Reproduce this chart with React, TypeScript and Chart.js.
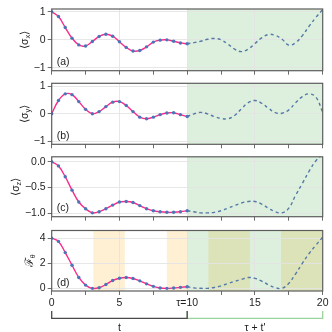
import React, { useEffect, useRef } from 'react';
import { Chart, registerables } from 'chart.js';
Chart.register(...registerables);

// ---------- data ----------
const tSolid = [0, 0.5, 1, 1.5, 2, 2.5, 3, 3.5, 4, 4.5, 5, 5.5, 6, 6.5, 7, 7.5, 8, 8.5, 9, 9.5, 10];
const tDashed = [10, 10.5, 11, 11.5, 12, 12.5, 13, 13.5, 14, 14.5, 15, 15.5, 16, 16.5, 17, 17.5, 18, 18.5, 19, 19.5, 20];

const sigmaXSolid = [1.0, 0.83, 0.44, 0.06, -0.18, -0.22, -0.06, 0.12, 0.2, 0.13, -0.07, -0.27, -0.4, -0.38, -0.25, -0.08, -0.01, 0.0, -0.05, -0.11, -0.14];
const sigmaXDashed = [-0.14, -0.1, -0.05, 0.02, 0.05, 0.0, -0.15, -0.33, -0.42, -0.33, -0.13, 0.07, 0.19, 0.16, 0.02, -0.19, -0.1, 0.15, 0.49, 0.8, 1.08];

const sigmaYSolid = [0, 0.48, 0.72, 0.69, 0.44, 0.16, 0.0, 0.08, 0.26, 0.42, 0.44, 0.3, 0.08, -0.12, -0.18, -0.12, -0.03, 0.03, 0.04, -0.03, -0.1];
const sigmaYDashed = [-0.1, 0.0, 0.05, 0.0, -0.1, -0.17, -0.18, -0.06, 0.18, 0.4, 0.48, 0.38, 0.2, 0.04, 0.02, 0.14, 0.4, 0.62, 0.72, 0.6, 0.06];

const sigmaZSolid = [0, -0.08, -0.29, -0.55, -0.78, -0.91, -0.99, -0.97, -0.91, -0.84, -0.78, -0.77, -0.79, -0.85, -0.91, -0.95, -0.97, -0.98, -0.98, -0.97, -0.95];
const sigmaZDashed = [-0.95, -0.97, -0.99, -0.99, -0.98, -0.95, -0.9, -0.85, -0.8, -0.77, -0.77, -0.82, -0.9, -0.97, -0.99, -0.9, -0.65, -0.42, -0.18, 0.02, 0.15];

const fisherSolid = [4.0, 3.74, 2.85, 1.84, 0.87, 0.26, 0.0, 0.05, 0.31, 0.63, 0.81, 0.87, 0.79, 0.6, 0.36, 0.16, 0.03, 0.0, 0.03, 0.08, 0.13];
const fisherDashed = [0.13, 0.04, 0.01, 0.0, 0.07, 0.2, 0.38, 0.56, 0.72, 0.86, 0.8, 0.58, 0.28, 0.06, 0.0, 0.4, 1.15, 2.0, 2.78, 3.45, 4.08];

const xTicks = [0, 2.5, 5, 7.5, 10, 12.5, 15, 17.5, 20];
const xTickLabels = ['0', '', '5', '', 'τ=10', '', '15', '', '20'];

const yTicksA = [-1, 0, 1];
const yLabelsA = ['−1', '0', '1'];
const yTicksB = [-1, 0, 1];
const yLabelsB = ['−1', '0', '1'];
const yTicksC = [-1, -0.5, 0];
const yLabelsC = ['−1.0', '−0.5', '0.0'];
const yTicksD = [0, 2, 4];
const yLabelsD = ['0', '2', '4'];

const greenSpan = [10, 20];
const orangeSpans = [[3.07, 5.4], [8.5, 10], [11.56, 14.63], [16.92, 20]];
const panelLabels = ['(a)', '(b)', '(c)', '(d)'];
const bracketLeft = [0, 10];
const bracketRight = [10, 20];
const bracketLabels = ['t', 'τ + t\''];

// ---------- styles ----------
const FONT = '"Liberation Sans", Arial, sans-serif';
const PINK = '#fb2a8c';
const BLUE = '#4a76b8';
const DASH = '#557aa8';
const FRAME = '#5c5c5c';
const GRID = '#e4e4e4';
const TEXT = '#1e1e1e';
const PLOT_LEFT = 51.7;
const PLOT_RIGHT = 322.7;

type TitlePart = { text: string; size: number; dy: number };

interface PanelCfg {
  idx: number;
  solid: number[];
  dashed: number[];
  yMin: number;
  yMax: number;
  yTicks: number[];
  yLabels: string[];
  title: TitlePart[];
  titleX: number;
  top: number;
  bottom: number;
  last: boolean;
}

const panels: PanelCfg[] = [
  {
    idx: 0, solid: sigmaXSolid, dashed: sigmaXDashed, yMin: -1.1, yMax: 1.1,
    yTicks: yTicksA, yLabels: yLabelsA,
    title: [{ text: '⟨σ', size: 10.5, dy: 0 }, { text: 'x', size: 7.5, dy: 2.5 }, { text: '⟩', size: 10.5, dy: 0 }],
    titleX: 24, top: 9, bottom: 70.7, last: false,
  },
  {
    idx: 1, solid: sigmaYSolid, dashed: sigmaYDashed, yMin: -1.1, yMax: 1.1,
    yTicks: yTicksB, yLabels: yLabelsB,
    title: [{ text: '⟨σ', size: 10.5, dy: 0 }, { text: 'y', size: 7.5, dy: 2.5 }, { text: '⟩', size: 10.5, dy: 0 }],
    titleX: 24, top: 83.3, bottom: 144.3, last: false,
  },
  {
    idx: 2, solid: sigmaZSolid, dashed: sigmaZDashed, yMin: -1.065, yMax: 0.097,
    yTicks: yTicksC, yLabels: yLabelsC,
    title: [{ text: '⟨σ', size: 10.5, dy: 0 }, { text: 'z', size: 7.5, dy: 2.5 }, { text: '⟩', size: 10.5, dy: 0 }],
    titleX: 15, top: 156.8, bottom: 216.7, last: false,
  },
  {
    idx: 3, solid: fisherSolid, dashed: fisherDashed, yMin: -0.21, yMax: 4.61,
    yTicks: yTicksD, yLabels: yLabelsD,
    title: [{ text: 'ℱ', size: 11.5, dy: 0 }, { text: 'θ', size: 7, dy: 2.5 }],
    titleX: 29, top: 230.5, bottom: 291, last: true,
  },
];

function drawRotated(ctx: CanvasRenderingContext2D, parts: TitlePart[], cx: number, cy: number) {
  ctx.save();
  ctx.translate(cx, cy);
  ctx.rotate(-Math.PI / 2);
  ctx.fillStyle = TEXT;
  ctx.textBaseline = 'alphabetic';
  ctx.textAlign = 'left';
  let total = 0;
  const widths = parts.map((p) => {
    ctx.font = `${p.size}px ${FONT}`;
    const w = ctx.measureText(p.text).width;
    total += w;
    return w;
  });
  let x = -total / 2;
  parts.forEach((p, i) => {
    ctx.font = `${p.size}px ${FONT}`;
    ctx.fillText(p.text, x, 3.8 + p.dy);
    x += widths[i];
  });
  ctx.restore();
}

function Panel({ cfg }: { cfg: PanelCfg }) {
  const ref = useRef<HTMLCanvasElement>(null);
  useEffect(() => {
    const canvas = ref.current;
    if (!canvas) return;
    const xH = cfg.last ? 20 : 5;
    const decor = {
      id: 'decor' + cfg.idx,
      beforeDraw(chart: any) {
        const { ctx, chartArea: a, scales } = chart;
        const x = scales.x;
        ctx.save();
        ctx.beginPath();
        ctx.rect(a.left, a.top, a.right - a.left, a.bottom - a.top);
        ctx.clip();
        if (cfg.last) {
          ctx.fillStyle = 'rgba(255,165,0,0.17)';
          orangeSpans.forEach(([s, e]) => {
            const x0 = x.getPixelForValue(s);
            const x1 = x.getPixelForValue(e);
            ctx.fillRect(x0, a.top, x1 - x0, a.bottom - a.top);
          });
        }
        ctx.fillStyle = 'rgba(44,160,44,0.16)';
        const g0 = x.getPixelForValue(greenSpan[0]);
        const g1 = x.getPixelForValue(greenSpan[1]);
        ctx.fillRect(g0, a.top, g1 - g0, a.bottom - a.top);
        ctx.restore();
      },
      afterDatasetsDraw(chart: any) {
        const { ctx, chartArea: a } = chart;
        ctx.save();
        ctx.strokeStyle = FRAME;
        ctx.lineWidth = 1.2;
        ctx.strokeRect(a.left, a.top, a.right - a.left, a.bottom - a.top);
        ctx.fillStyle = TEXT;
        ctx.font = `10.5px ${FONT}`;
        ctx.textAlign = 'left';
        ctx.textBaseline = 'alphabetic';
        ctx.fillText(panelLabels[cfg.idx], a.left + 5, a.bottom - 5.5);
        ctx.restore();
        drawRotated(ctx, cfg.title, cfg.titleX, (a.top + a.bottom) / 2);
      },
      afterDraw(chart: any) {
        if (!cfg.last) return;
        const { ctx, scales } = chart;
        const x = scales.x;
        const yLine = 318.3;
        const yTop = 311;
        ctx.save();
        ctx.lineWidth = 1.3;
        // right bracket (green)
        const r0 = x.getPixelForValue(bracketRight[0]);
        const r1 = x.getPixelForValue(bracketRight[1]);
        ctx.strokeStyle = '#9ad49a';
        ctx.beginPath();
        ctx.moveTo(r0, yTop);
        ctx.lineTo(r0, yLine);
        ctx.lineTo(r1, yLine);
        ctx.lineTo(r1, yTop);
        ctx.stroke();
        // left bracket (dark)
        const l0 = x.getPixelForValue(bracketLeft[0]);
        const l1 = x.getPixelForValue(bracketLeft[1]);
        ctx.strokeStyle = '#4a4a4a';
        ctx.beginPath();
        ctx.moveTo(l0, yTop);
        ctx.lineTo(l0, yLine);
        ctx.lineTo(l1, yLine);
        ctx.lineTo(l1, yTop);
        ctx.stroke();
        ctx.fillStyle = TEXT;
        ctx.font = `10.5px ${FONT}`;
        ctx.textAlign = 'center';
        ctx.textBaseline = 'alphabetic';
        ctx.fillText(bracketLabels[0], (l0 + l1) / 2, 331);
        ctx.fillText(bracketLabels[1], (r0 + r1) / 2, 331);
        ctx.restore();
      },
    };

    const chart = new Chart(canvas, {
      type: 'line',
      data: {
        datasets: [
          {
            data: tDashed.map((t, i) => ({ x: t, y: cfg.dashed[i] })),
            borderColor: DASH,
            borderWidth: 1.4,
            borderDash: [3.2, 3],
            pointRadius: 0,
            tension: 0.4,
            fill: false,
          },
          {
            data: tSolid.map((t, i) => ({ x: t, y: cfg.solid[i] })),
            borderColor: PINK,
            borderWidth: 1.4,
            pointRadius: 1.7,
            pointBackgroundColor: BLUE,
            pointBorderColor: BLUE,
            pointBorderWidth: 0,
            tension: 0.4,
            fill: false,
          },
        ],
      },
      options: {
        responsive: false,
        animation: false,
        devicePixelRatio: 1,
        events: [],
        layout: {
          padding: { left: 0, right: 332 - PLOT_RIGHT, top: cfg.top, bottom: 332 - cfg.bottom - xH },
        },
        plugins: { legend: { display: false }, tooltip: { enabled: false }, title: { display: false } },
        scales: {
          x: {
            type: 'linear',
            min: 0,
            max: 20,
            afterBuildTicks: (s: any) => {
              s.ticks = xTicks.map((v) => ({ value: v }));
            },
            afterFit: (s: any) => {
              s.height = xH;
            },
            border: { display: false },
            grid: {
              color: (c: any) =>
                c.tick && c.tick.value % 5 === 0 && c.tick.value > 0 && c.tick.value < 20 ? GRID : 'rgba(0,0,0,0)',
              tickColor: FRAME,
              tickLength: 4,
              lineWidth: 0.9,
            },
            ticks: {
              display: cfg.last,
              autoSkip: false,
              maxRotation: 0,
              padding: 2,
              color: TEXT,
              font: { family: FONT, size: 10.5 },
              callback: (v: any) => {
                const i = xTicks.indexOf(Number(v));
                return i >= 0 ? xTickLabels[i] : '';
              },
            },
          },
          y: {
            type: 'linear',
            min: cfg.yMin,
            max: cfg.yMax,
            afterBuildTicks: (s: any) => {
              s.ticks = cfg.yTicks.map((v) => ({ value: v }));
            },
            afterFit: (s: any) => {
              s.width = PLOT_LEFT;
            },
            border: { display: false },
            grid: {
              color: GRID,
              tickColor: FRAME,
              tickLength: 4,
              lineWidth: 0.9,
            },
            ticks: {
              padding: 2,
              color: TEXT,
              font: { family: FONT, size: 10.5 },
              callback: (v: any) => {
                const i = cfg.yTicks.indexOf(Number(v));
                return i >= 0 ? cfg.yLabels[i] : '';
              },
            },
          },
        },
      },
      plugins: [decor],
    } as any);
    return () => chart.destroy();
  }, []);
  return (
    <canvas
      ref={ref}
      width={332}
      height={332}
      style={{ position: 'absolute', left: 0, top: 0, width: 332, height: 332 }}
    />
  );
}

export default function App() {
  return (
    <div style={{ position: 'fixed', left: 0, top: 0, width: 332, height: 332, background: '#fff', overflow: 'hidden' }}>
      {panels.map((p) => (
        <Panel key={p.idx} cfg={p} />
      ))}
    </div>
  );
}
